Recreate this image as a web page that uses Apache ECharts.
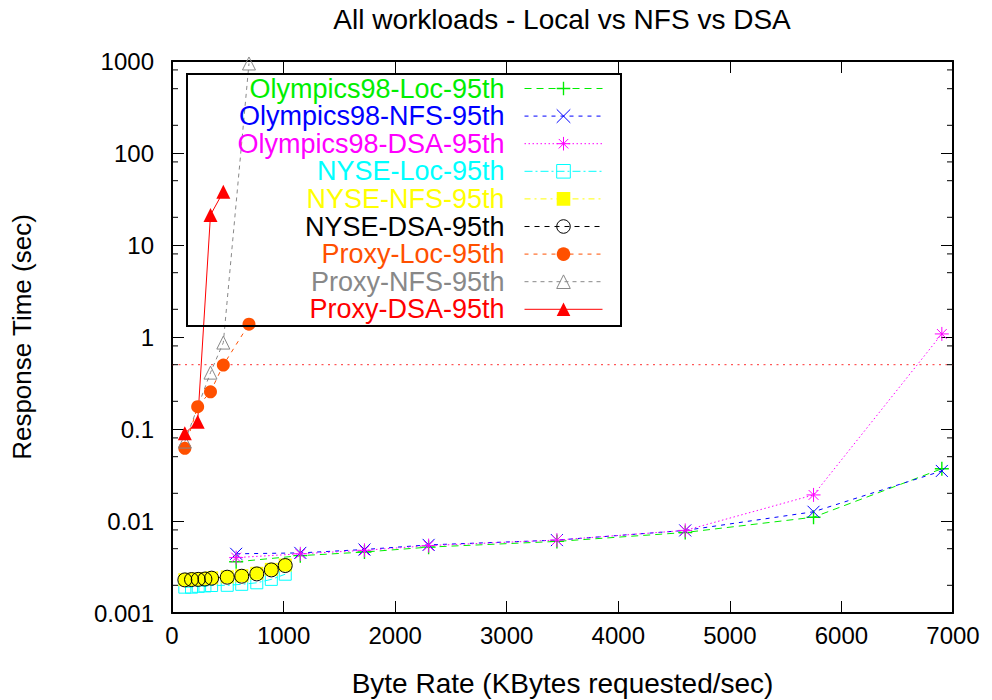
<!DOCTYPE html>
<html>
<head>
<meta charset="utf-8">
<title>All workloads - Local vs NFS vs DSA</title>
<script src="https://cdn.jsdelivr.net/npm/echarts@6/dist/echarts.min.js"></script>
<style>
  html, body { margin: 0; padding: 0; background: #ffffff; }
  #chart { width: 992px; height: 700px; }
</style>
</head>
<body>
<div id="chart"></div>
<script>
const FONT = '"Liberation Sans", Arial, Helvetica, sans-serif';

// Olympics98 workload: byte rate (KBytes/sec) and 95th percentile response time (sec)
const olympicsRate = [575, 1150, 1725, 2300, 3450, 4600, 5750, 6900];
const olympicsLoc  = [0.0036, 0.0042, 0.0046, 0.0052, 0.0060, 0.0075, 0.0110, 0.037];
const olympicsNfs  = [0.0044, 0.0045, 0.0049, 0.0055, 0.0062, 0.0079, 0.0126, 0.035];
const olympicsDsa  = [0.0040, 0.0044, 0.0048, 0.0054, 0.0062, 0.0079, 0.0192, 1.08];

// NYSE workload
const nyseRate = [115, 175, 235, 295, 355, 495, 625, 760, 890, 1015];
const nyseLoc  = [0.00191, 0.00191, 0.00195, 0.00197, 0.00199, 0.00200, 0.00205, 0.00213, 0.00232, 0.00264];
const nyseNfs  = [0.00230, 0.00232, 0.00234, 0.00236, 0.00241, 0.00247, 0.00254, 0.00270, 0.00298, 0.00332];
const nyseDsa  = [0.00229, 0.00231, 0.00232, 0.00234, 0.00239, 0.00245, 0.00251, 0.00266, 0.00294, 0.00328];

// Proxy workload
const proxyLocRate = [115, 230, 345, 460, 690];
const proxyLoc     = [0.0617, 0.175, 0.254, 0.496, 1.38];
const proxyNfsRate = [115, 345, 460, 690];
const proxyNfs     = [0.073, 0.41, 0.87, 940];
const proxyDsaRate = [115, 230, 345, 460];
const proxyDsa     = [0.0897, 0.120, 21.2, 38.0];

// 0.5 s response-time limit
const limitRate = [0, 7000];
const limitTime = [0.5, 0.5];

// axis ranges and log minor tick mantissas
const xRange = [0, 7000];
const yRange = [0.001, 1000];
const minorMantissas = [2, 5, 8];
const decades = [0.001, 0.01, 0.1, 1, 10, 100];
const minorTicks = [];
decades.forEach(d => minorMantissas.forEach(m => minorTicks.push(+(m * d).toPrecision(3))));

const pairs = (xs, ys) => xs.map((x, i) => [x, ys[i]]);

const SYM = {
  plus: 'path://M4.5,0L5.5,0L5.5,4.5L10,4.5L10,5.5L5.5,5.5L5.5,10L4.5,10L4.5,5.5L0,5.5L0,4.5L4.5,4.5Z',
  cross: 'path://M0,0L10,10M10,0L0,10',
  star: 'path://M5,0L5,10M0,5L10,5M1.5,1.5L8.5,8.5M8.5,1.5L1.5,8.5',
  openSquare: 'path://M0,0L10,0L10,10L0,10Z',
  openCircle: 'path://M0,5A5,5,0,1,1,10,5A5,5,0,1,1,0,5Z',
  openTriangle: 'path://M5,0L10,9L0,9Z'
};

// open: outline-only marker; filled markers take the series colour
const defs = [
  { name: 'Olympics98-Loc-95th', color: '#00ee00', x: olympicsRate, y: olympicsLoc,
    symbol: SYM.plus, size: 14, open: false, dash: [7, 5] },
  { name: 'Olympics98-NFS-95th', color: '#0000ff', x: olympicsRate, y: olympicsNfs,
    symbol: SYM.cross, size: 12, open: true, dash: [4, 5] },
  { name: 'Olympics98-DSA-95th', color: '#ff00ff', x: olympicsRate, y: olympicsDsa,
    symbol: SYM.star, size: 14, open: true, dash: [1.5, 2.5] },
  { name: 'NYSE-Loc-95th', color: '#00ffff', x: nyseRate, y: nyseLoc,
    symbol: SYM.openSquare, size: 12, open: true, dash: [8, 3, 2, 3] },
  { name: 'NYSE-NFS-95th', color: '#ffff00', x: nyseRate, y: nyseNfs,
    symbol: 'rect', size: 13, open: false, dash: [6, 4, 2, 4] },
  { name: 'NYSE-DSA-95th', color: '#000000', x: nyseRate, y: nyseDsa,
    symbol: SYM.openCircle, size: 14, open: true, dash: [5, 5] },
  { name: 'Proxy-Loc-95th', color: '#ff5000', x: proxyLocRate, y: proxyLoc,
    symbol: 'circle', size: 13, open: false, dash: [4, 5] },
  { name: 'Proxy-NFS-95th', color: '#888888', x: proxyNfsRate, y: proxyNfs,
    symbol: SYM.openTriangle, size: 13, open: true, dash: [4, 4] },
  { name: 'Proxy-DSA-95th', color: '#ff0000', x: proxyDsaRate, y: proxyDsa,
    symbol: 'triangle', size: 14, open: false, dash: 'solid' }
];

function itemStyleOf(d) {
  return d.open
    ? { color: 'transparent', borderColor: d.color, borderWidth: 1 }
    : { color: d.color, borderColor: d.color, borderWidth: 0 };
}

const series = [];

// minor ticks of the log axis on the left and right frame edges
series.push({
  type: 'custom',
  name: 'minor ticks',
  silent: true,
  z: 5,
  data: minorTicks.map(v => [xRange[0], v]),
  renderItem(params, api) {
    const v = api.value(1);
    const l = api.coord([xRange[0], v]);
    const r = api.coord([xRange[1], v]);
    const len = 6;
    return {
      type: 'group',
      children: [
        { type: 'line', shape: { x1: l[0], y1: l[1], x2: l[0] + len, y2: l[1] }, style: { stroke: '#000', lineWidth: 1 } },
        { type: 'line', shape: { x1: r[0], y1: r[1], x2: r[0] - len, y2: r[1] }, style: { stroke: '#000', lineWidth: 1 } }
      ]
    };
  }
});

series.push({
  type: 'line',
  name: 'limit',
  data: pairs(limitRate, limitTime),
  showSymbol: false,
  symbol: 'none',
  silent: true,
  lineStyle: { color: '#ff3030', width: 1, type: [2, 4.5] },
  z: 1
});

defs.forEach(d => {
  series.push({
    type: 'line',
    name: d.name,
    data: pairs(d.x, d.y),
    symbol: d.symbol,
    symbolSize: d.size,
    showSymbol: true,
    showAllSymbol: true,
    itemStyle: itemStyleOf(d),
    lineStyle: { color: d.color, width: 1, type: d.dash },
    emphasis: { disabled: true },
    z: 2
  });
});

const legendData = defs.map(d => ({
  name: d.name,
  textStyle: { color: d.color },
  itemStyle: itemStyleOf(d),
  lineStyle: { color: d.color, width: 1, type: d.dash }
}));

const axisCommon = {
  axisLine: { show: true, onZero: false, lineStyle: { color: '#000', width: 2 } },
  axisTick: { show: true, inside: true, length: 12, lineStyle: { color: '#000', width: 1 } },
  splitLine: { show: false },
  minorTick: { show: false },
  minorSplitLine: { show: false }
};

const plainNumber = v => String(+(+v).toPrecision(6));

const chart = echarts.init(document.getElementById('chart'), null, { renderer: 'svg' });

chart.setOption({
  animation: false,
  backgroundColor: '#ffffff',
  textStyle: { fontFamily: FONT },
  grid: { left: 172, right: 39, top: 61, bottom: 87, containLabel: false, outerBoundsMode: 'none' },
  graphic: [
    {
      type: 'text', x: 562, y: 19, silent: true,
      style: { text: 'All workloads - Local vs NFS vs DSA', fill: '#000', font: '28px ' + FONT,
               textAlign: 'center', textVerticalAlign: 'middle' }
    },
    {
      type: 'rect', silent: true, z: 10,
      shape: { x: 187, y: 74, width: 434, height: 252 },
      style: { fill: 'none', stroke: '#000', lineWidth: 2 }
    }
  ],
  legend: {
    orient: 'vertical',
    align: 'right',
    right: 389,
    top: 75,
    padding: 0,
    itemWidth: 78,
    itemHeight: 17,
    itemGap: 0.6,
    selectedMode: false,
    textStyle: { fontFamily: FONT, fontSize: 27, lineHeight: 27, padding: [0, 15, 0, 0] },
    data: legendData
  },
  xAxis: [
    Object.assign({}, axisCommon, {
      type: 'value', position: 'bottom', min: xRange[0], max: xRange[1], interval: 1000,
      axisLabel: { show: true, color: '#000', fontSize: 24, fontFamily: FONT, margin: 10, formatter: plainNumber },
      name: 'Byte Rate (KBytes requested/sec)',
      nameLocation: 'middle', nameGap: 56,
      nameTextStyle: { color: '#000', fontSize: 28, fontFamily: FONT }
    }),
    Object.assign({}, axisCommon, {
      type: 'value', position: 'top', min: xRange[0], max: xRange[1], interval: 1000,
      axisLabel: { show: false }
    })
  ],
  yAxis: [
    Object.assign({}, axisCommon, {
      type: 'log', logBase: 10, position: 'left', min: yRange[0], max: yRange[1], splitNumber: 6,
      axisLabel: { show: true, color: '#000', fontSize: 24, fontFamily: FONT, margin: 18, formatter: plainNumber },
      name: 'Response Time (sec)',
      nameLocation: 'middle', nameGap: 137,
      nameTextStyle: { color: '#000', fontSize: 26, fontFamily: FONT }
    }),
    Object.assign({}, axisCommon, {
      type: 'log', logBase: 10, position: 'right', min: yRange[0], max: yRange[1], splitNumber: 6,
      axisLabel: { show: false }
    })
  ],
  series: series
});
</script>
</body>
</html>
